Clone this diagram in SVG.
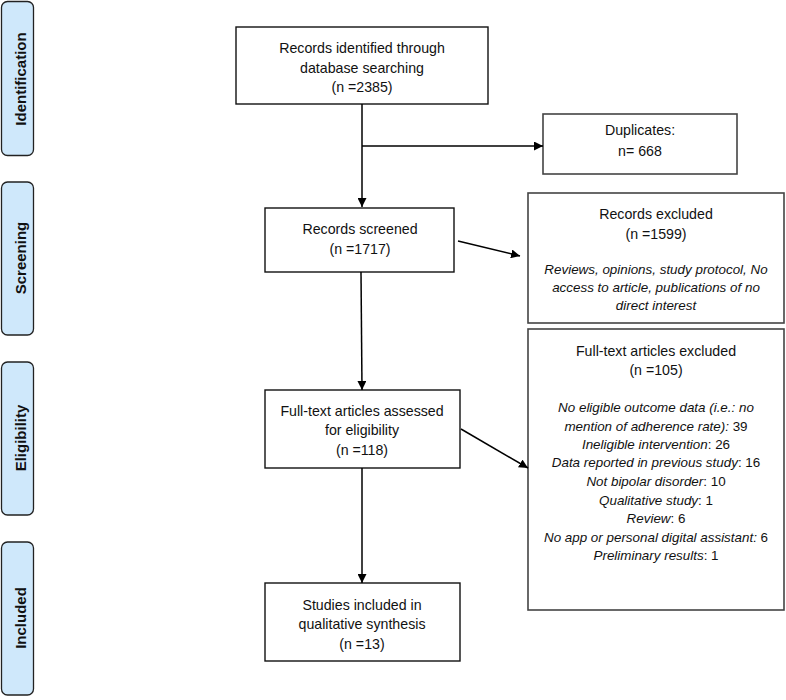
<svg xmlns="http://www.w3.org/2000/svg" width="786" height="700" viewBox="0 0 786 700">
<defs>
<marker id="ah" viewBox="0 0 10 10" refX="10" refY="5" markerWidth="9" markerHeight="9" markerUnits="userSpaceOnUse" orient="auto">
<path d="M0,0 L10,5 L0,10 z" fill="#000"/>
</marker>
<style>
.side{fill:#cfe8fb;stroke:#222;stroke-width:1.3}
.sl{font-family:"Liberation Sans",Arial,sans-serif;font-weight:bold;font-size:15px;fill:#111;text-anchor:middle}
.box{fill:#fff;stroke:#111;stroke-width:1.4}
.gbox{fill:#fff;stroke:#444;stroke-width:1.6}
.t{font-family:"Liberation Sans",Arial,sans-serif;font-size:14.2px;fill:#111;text-anchor:middle}
.d{font-size:13.4px}
.i{font-style:italic}
.c{stroke:#000;stroke-width:1.5;fill:none}
</style>
</defs>
<g id="stage-identification"><rect class="side" x="1.5" y="1.5" width="32" height="154" rx="6"/><text class="sl" transform="translate(25.5,79) rotate(-90)">Identification</text></g>
<g id="stage-screening"><rect class="side" x="1.5" y="182" width="32" height="153" rx="6"/><text class="sl" transform="translate(25.5,258) rotate(-90)">Screening</text></g>
<g id="stage-eligibility"><rect class="side" x="1.5" y="362" width="32" height="153" rx="6"/><text class="sl" transform="translate(25.5,438) rotate(-90)">Eligibility</text></g>
<g id="stage-included"><rect class="side" x="1.5" y="542" width="32" height="153" rx="6"/><text class="sl" transform="translate(25.5,618) rotate(-90)">Included</text></g>

<g id="identified"><rect class="box" x="236" y="27" width="252" height="77"/>
<text class="t" x="362" y="53">Records identified through</text>
<text class="t" x="362" y="73">database searching</text>
<text class="t" x="362" y="92">(n =2385)</text></g>

<g id="duplicates"><rect class="gbox" x="543" y="114" width="194" height="60"/>
<text class="t" x="640" y="135">Duplicates:</text>
<text class="t" x="640" y="156">n= 668</text></g>

<g id="screened"><rect class="box" x="265" y="208" width="189" height="64"/>
<text class="t" x="360" y="234">Records screened</text>
<text class="t" x="360" y="254">(n =1717)</text></g>

<g id="records-excluded"><rect class="gbox" x="528" y="193" width="256" height="130"/>
<text class="t" x="656" y="219">Records excluded</text>
<text class="t" x="656" y="239">(n =1599)</text>
<text class="t d i" x="656" y="274">Reviews, opinions, study protocol, No</text>
<text class="t d i" x="656" y="292">access to article, publications of no</text>
<text class="t d i" x="656" y="310">direct interest</text></g>

<g id="assessed"><rect class="box" x="265" y="390" width="195" height="78"/>
<text class="t" x="362" y="416">Full-text articles assessed</text>
<text class="t" x="362" y="435">for eligibility</text>
<text class="t" x="362" y="455">(n =118)</text></g>

<g id="fulltext-excluded"><rect class="gbox" x="528" y="329" width="256" height="281"/>
<text class="t" x="656" y="356">Full-text articles excluded</text>
<text class="t" x="656" y="375">(n =105)</text>
<text class="t d" x="656" y="412"><tspan class="i">No eligible outcome data (i.e.: no</tspan></text>
<text class="t d" x="656" y="431"><tspan class="i">mention of adherence rate):</tspan> 39</text>
<text class="t d" x="656" y="449"><tspan class="i">Ineligible intervention</tspan>: 26</text>
<text class="t d" x="656" y="467"><tspan class="i">Data reported in previous study</tspan>: 16</text>
<text class="t d" x="656" y="486"><tspan class="i">Not bipolar disorder</tspan>: 10</text>
<text class="t d" x="656" y="505"><tspan class="i">Qualitative study</tspan>: 1</text>
<text class="t d" x="656" y="523"><tspan class="i">Review</tspan>: 6</text>
<text class="t d" x="656" y="542"><tspan class="i">No app or personal digital assistant:</tspan> 6</text>
<text class="t d" x="656" y="560"><tspan class="i">Preliminary results</tspan>: 1</text></g>

<g id="included"><rect class="box" x="265" y="583" width="195" height="78"/>
<text class="t" x="362" y="610">Studies included in</text>
<text class="t" x="362" y="629">qualitative synthesis</text>
<text class="t" x="362" y="649">(n =13)</text></g>

<g id="connectors">
<line class="c" x1="362" y1="104" x2="362" y2="207" marker-end="url(#ah)"/>
<line class="c" x1="362" y1="146" x2="543" y2="146" marker-end="url(#ah)"/>
<line class="c" x1="458" y1="241" x2="520" y2="256" marker-end="url(#ah)"/>
<line class="c" x1="361" y1="272" x2="362" y2="390" marker-end="url(#ah)"/>
<line class="c" x1="461" y1="429" x2="528" y2="468" marker-end="url(#ah)"/>
<line class="c" x1="362" y1="468" x2="362" y2="583" marker-end="url(#ah)"/>
</g>
</svg>
